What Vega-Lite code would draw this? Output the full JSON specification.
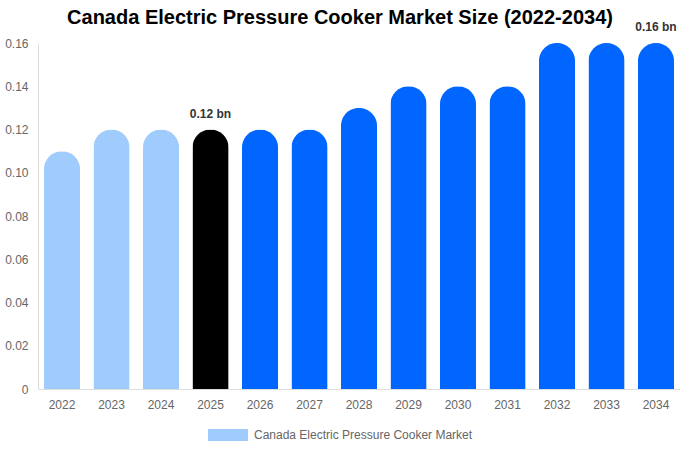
{
  "$schema": "https://vega.github.io/schema/vega-lite/v6.json",
  "autosize": "none",
  "width": 642,
  "height": 346,
  "padding": {"left": 38, "top": 43, "right": 0, "bottom": 61},
  "background": "white",
  "config": {
    "font": "Liberation Sans",
    "view": {"stroke": null}
  },
  "title": {
    "text": "Canada Electric Pressure Cooker Market Size (2022-2034)",
    "fontSize": 20,
    "fontWeight": "bold",
    "color": "#000000",
    "anchor": "middle",
    "dx": -19,
    "offset": -7
  },
  "data": {
    "values": [
      {"year": "2022", "value": 0.11, "phase": "history"},
      {"year": "2023", "value": 0.12, "phase": "history"},
      {"year": "2024", "value": 0.12, "phase": "history"},
      {"year": "2025", "value": 0.12, "phase": "base"},
      {"year": "2026", "value": 0.12, "phase": "forecast"},
      {"year": "2027", "value": 0.12, "phase": "forecast"},
      {"year": "2028", "value": 0.13, "phase": "forecast"},
      {"year": "2029", "value": 0.14, "phase": "forecast"},
      {"year": "2030", "value": 0.14, "phase": "forecast"},
      {"year": "2031", "value": 0.14, "phase": "forecast"},
      {"year": "2032", "value": 0.16, "phase": "forecast"},
      {"year": "2033", "value": 0.16, "phase": "forecast"},
      {"year": "2034", "value": 0.16, "phase": "forecast"}
    ]
  },
  "encoding": {
    "x": {
      "field": "year",
      "type": "ordinal",
      "scale": {"paddingInner": 0.27, "paddingOuter": 0.12},
      "axis": {
        "title": null,
        "labelAngle": 0,
        "labelColor": "#666666",
        "labelFontSize": 12,
        "labelPadding": 10,
        "ticks": false,
        "domainColor": "#dddddd"
      }
    },
    "y": {
      "field": "value",
      "type": "quantitative",
      "scale": {"domain": [0, 0.16], "nice": false},
      "axis": {
        "title": null,
        "values": [0, 0.02, 0.04, 0.06, 0.08, 0.1, 0.12, 0.14, 0.16],
        "labelExpr": "datum.value == 0 ? '0' : format(datum.value, '.2f')",
        "labelColor": "#666666",
        "labelFontSize": 12,
        "labelPadding": 10,
        "ticks": false,
        "grid": false,
        "domainColor": "#dddddd"
      }
    }
  },
  "layer": [
    {
      "mark": {"type": "bar", "cornerRadiusTopLeft": 18, "cornerRadiusTopRight": 18},
      "encoding": {
        "color": {
          "field": "phase",
          "type": "nominal",
          "scale": {
            "domain": ["history", "base", "forecast"],
            "range": ["#a0cbfd", "#000000", "#0066ff"]
          },
          "legend": {
            "values": ["history"],
            "title": null,
            "orient": "none",
            "legendX": 170,
            "legendY": 372,
            "labelExpr": "'Canada Electric Pressure Cooker Market'",
            "labelLimit": 0,
            "labelColor": "#666666",
            "labelFontSize": 12,
            "labelOffset": 6,
            "symbolType": "M-1,-0.3L1,-0.3L1,0.3L-1,0.3Z",
            "symbolSize": 1600,
            "symbolStrokeWidth": 0,
            "symbolOpacity": 1
          }
        }
      }
    },
    {
      "transform": [
        {"filter": "datum.year == '2025' || datum.year == '2034'"},
        {"calculate": "format(datum.value, '.2f') + ' bn'", "as": "label"}
      ],
      "mark": {
        "type": "text",
        "baseline": "alphabetic",
        "dy": -12,
        "fontSize": 12,
        "fontWeight": "bold",
        "color": "#333333"
      },
      "encoding": {"text": {"field": "label"}}
    }
  ]
}
